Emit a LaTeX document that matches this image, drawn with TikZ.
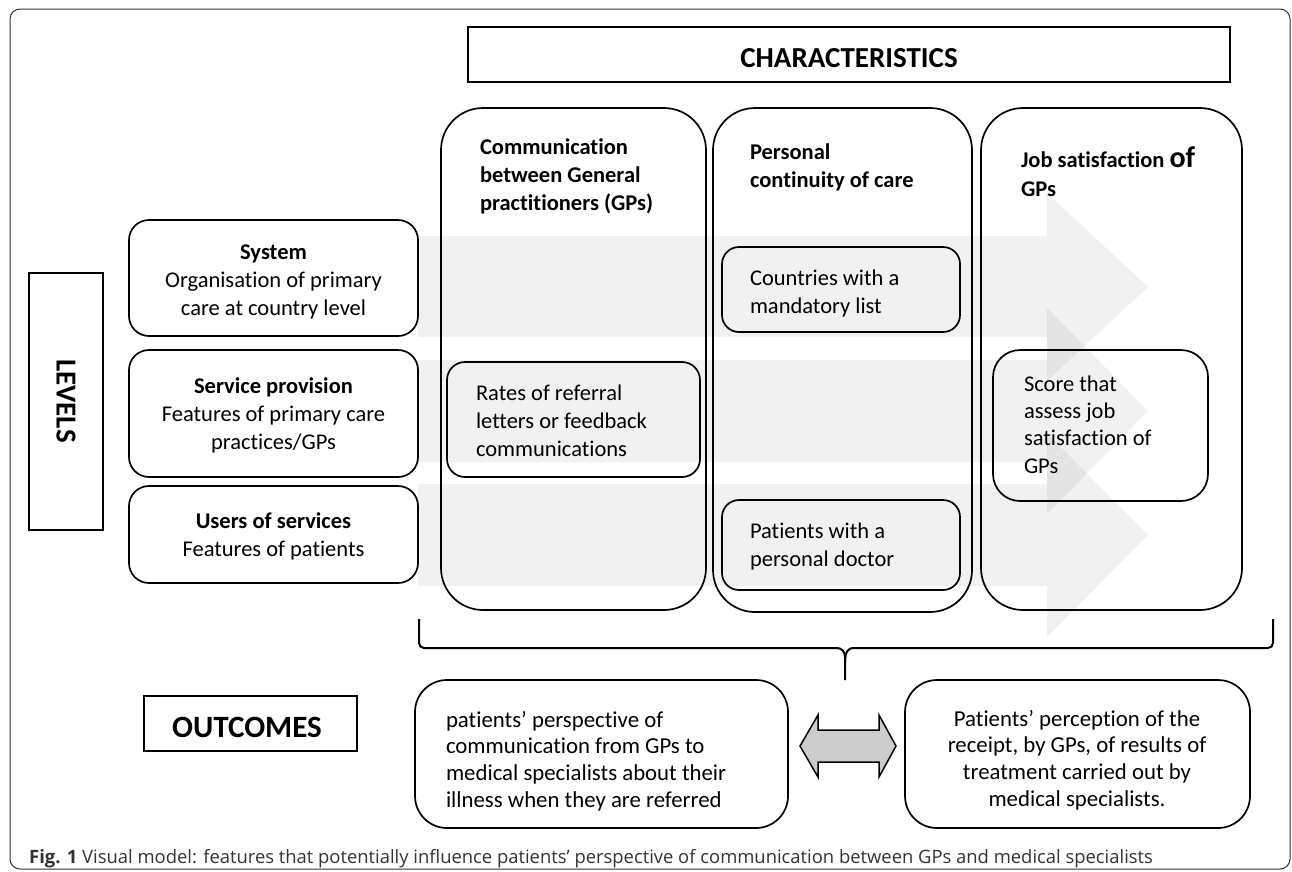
\documentclass[tikz,border=0pt]{standalone}
\usepackage{fontspec}
\setmainfont{Carlito}[Ligatures=NoCommon]
\newfontfamily\capfont{Open Sans}
\newcommand{\bodyfont}{\fontsize{22.5}{28}\selectfont}
\newcommand{\outfont}{\fontsize{22.8}{26.8}\selectfont}
\newcommand{\tabL}[1]{\begin{tabular}[t]{@{}l@{}}#1\end{tabular}}
\newcommand{\tabC}[1]{\begin{tabular}[t]{@{}c@{}}#1\end{tabular}}
\newcommand{\bx}[7][]{\node[boxnode,#1,rounded corners=#7pt,minimum width={(#4-#2)*1pt},minimum height={(#5-#3)*1pt},anchor=north west] (#6) at (#2,#3) {};}
\begin{document}
\begin{tikzpicture}[x=1pt,y=-1pt,
  boxnode/.style={draw=black,line width=1.7pt,inner sep=0pt,outer sep=0pt},
  txt/.style={inner sep=0pt,outer sep=0pt,font=\bodyfont},
  btxt/.style={inner sep=0pt,outer sep=0pt,font=\bodyfont\bfseries},
  bigtxt/.style={inner sep=0pt,outer sep=0pt,font=\fontsize{29}{32}\selectfont\bfseries},
  band/.style={fill=black,fill opacity=0.055,draw=none},
  brace/.style={draw=black,line width=2pt,rounded corners=5pt},
  dbl/.style={draw=black,line width=1.5pt,fill=black!20,line join=miter}]
\useasboundingbox (0,0) rectangle (1292,871);
% frame
\draw[black!80,line width=1pt,rounded corners=10pt] (10,9) rectangle (1290,869);
% grey level arrows
\fill[band] (418,236) -- (1047,236) -- (1047,193) -- (1148,287) -- (1047,381) -- (1047,337) -- (418,337) -- cycle;
\fill[band] (418,360) -- (1047,360) -- (1047,308) -- (1148,411) -- (1047,514) -- (1047,462) -- (418,462) -- cycle;
\fill[band] (418,484) -- (1047,484) -- (1047,433) -- (1148,535) -- (1047,637) -- (1047,586) -- (418,586) -- cycle;
% characteristics header
\bx[line width=1.8pt]{468}{27}{1230}{82}{char}{0}
\node[bigtxt,anchor=base] (chart) at (849,67) {CHARACTERISTICS};
% columns
\bx{441}{108}{706}{610}{colA}{42}
\bx{713}{108}{972}{612}{colB}{42}
\bx{981}{108}{1242}{610}{colC}{42}
\node[btxt,anchor=base west] (hA) at (480,154) {\tabL{Communication\\between General\\practitioners (GPs)}};
\node[btxt,anchor=base west] (hB) at (750,159) {\tabL{Personal\\continuity of care}};
\node[btxt,anchor=base west] (hC) at (1021,167) {Job satisfaction {\fontsize{30}{30}\selectfont of}};
\node[btxt,anchor=base west] (hC2) at (1021,196) {GPs};
% levels
\bx[line width=1.8pt]{29}{273}{103}{530}{lev}{0}
\node[bigtxt,rotate=-90] (levt) at (66,401) {LEVELS};
\bx{129}{220}{418}{336}{sys}{20}
\bx{129}{350}{418}{477}{srv}{20}
\bx{129}{486}{418}{583}{usr}{20}
\node[txt,anchor=base] (syst) at (273.5,259) {\tabC{\textbf{System}\\Organisation of primary\\care at country level}};
\node[txt,anchor=base] (srvt) at (273.5,393) {\tabC{\textbf{Service provision}\\Features of primary care\\practices/GPs}};
\node[txt,anchor=base] (usrt) at (273.5,528) {\tabC{\textbf{Users of services}\\Features of patients}};
% inner boxes
\bx{447}{362}{700}{477}{rates}{18}
\node[txt,anchor=base west] (ratest) at (476,400) {\tabL{Rates of referral\\letters or feedback\\communications}};
\bx{722}{247}{960}{332}{ctry}{17}
\node[txt,anchor=base west] (ctryt) at (750,285) {\tabL{Countries with a\\mandatory list}};
\bx{722}{500}{960}{590}{pat}{17}
\node[txt,anchor=base west] (patt) at (750,538) {\tabL{Patients with a\\personal doctor}};
\bx{993}{350}{1208}{501}{score}{27}
\node[txt,anchor=base west,font=\fontsize{22.5}{27.4}\selectfont] (scoret) at (1024,391) {\tabL{Score that\\assess job\\satisfaction of\\GPs}};
% brace
\coordinate (brL) at (419,619);
\coordinate (brR) at (1273,619);
\coordinate (brtip) at (845,680);
\draw[brace] (brL) -- (419,648) -- (832,648) .. controls (841,648) and (845,651) .. (845,662) -- (brtip);
\draw[brace] (845,662) .. controls (845,651) and (849,648) .. (858,648) -- (1273,648) -- (brR);
% outcomes
\bx[line width=1.8pt]{144}{696}{357}{751}{outc}{0}
\node[inner sep=0pt,outer sep=0pt,font=\fontsize{31}{34}\selectfont\bfseries,anchor=base] (outct) at (247,737) {OUTCOMES};
\bx{415}{680}{788}{828}{outA}{32}
\bx{905}{680}{1250}{828}{outB}{32}
\node[txt,anchor=base west,font=\outfont] (outAt) at (446,727) {\tabL{patients’ perspective of\\communication from GPs to\\medical specialists about their\\illness when they are referred}};
\node[txt,anchor=base,font=\outfont] (outBt) at (1077,726) {\tabC{Patients’ perception of the\\receipt, by GPs, of results of\\treatment carried out by\\medical specialists.}};
% double arrow
\draw[dbl] (800,746) -- (818,715) -- (818,730) -- (879,730) -- (879,715) -- (896,746) -- (879,777) -- (879,762) -- (818,762) -- (818,777) -- cycle;
% caption
\node[anchor=base west,inner sep=0pt,font=\capfont\fontsize{18.4}{22}\selectfont,text=black!80] (cap) at (29,863) {\textbf{Fig. 1} Visual model: features that potentially influence patients’ perspective of communication between GPs and medical specialists};
\end{tikzpicture}
\end{document}
